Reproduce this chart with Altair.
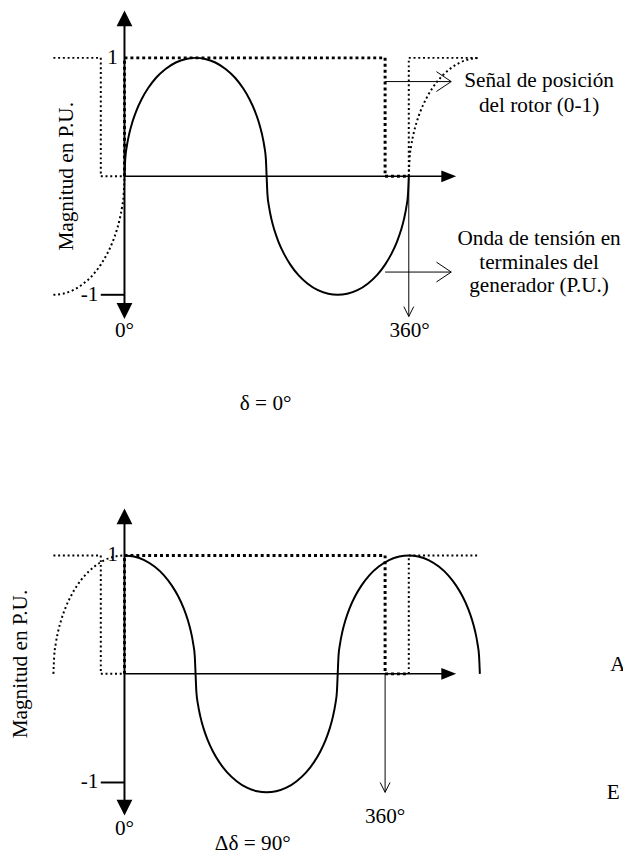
import altair as alt
import pandas as pd

# ---------------- data (degrees, per-unit values) ----------------
# Voltage wave, delta = 0 deg
wave0_deg = [0, 1, 3, 6, 10, 15, 22, 30, 40, 52, 65, 78, 90,
             102, 115, 128, 140, 150, 158, 165, 170, 174, 177, 179, 180,
             181, 183, 186, 190, 195, 202, 210, 220, 232, 245, 258, 270,
             282, 295, 308, 320, 330, 338, 345, 350, 354, 357, 359, 360]
wave0_val = [0, .149, .256, .359, .458, .553, .655, .745, .832, .906, .961, .991, 1,
             .991, .961, .906, .832, .745, .655, .553, .458, .359, .256, .149, 0,
             -.149, -.256, -.359, -.458, -.553, -.655, -.745, -.832, -.906, -.961, -.991, -1,
             -.991, -.961, -.906, -.832, -.745, -.655, -.553, -.458, -.359, -.256, -.149, 0]
# dotted continuation of the wave (previous / next cycle), delta = 0 deg
tail0_left_deg = [-90, -78, -65, -52, -40, -30, -22, -15, -10, -6, -3, -1, 0]
tail0_left_val = [-1, -.991, -.961, -.906, -.832, -.745, -.655, -.553, -.458, -.359, -.256, -.149, 0]
tail0_right_deg = [360, 361, 363, 366, 370, 375, 382, 390, 400, 412, 425, 438, 450]
tail0_right_val = [0, .149, .256, .359, .458, .553, .655, .745, .832, .906, .961, .991, 1]

# Voltage wave, delta = 90 deg
wave90_deg = [0, 12, 25, 38, 50, 60, 68, 75, 80, 84, 87, 89, 90,
              91, 93, 96, 100, 105, 112, 120, 130, 142, 155, 168, 180,
              192, 205, 218, 230, 240, 248, 255, 260, 264, 267, 269, 270,
              271, 273, 276, 280, 285, 292, 300, 310, 322, 335, 348, 360,
              372, 385, 398, 410, 420, 428, 435, 440, 444, 447, 449, 450]
wave90_val = [1, .991, .961, .906, .832, .745, .655, .553, .458, .359, .256, .149, 0,
              -.149, -.256, -.359, -.458, -.553, -.655, -.745, -.832, -.906, -.961, -.991, -1,
              -.991, -.961, -.906, -.832, -.745, -.655, -.553, -.458, -.359, -.256, -.149, 0,
              .149, .256, .359, .458, .553, .655, .745, .832, .906, .961, .991, 1,
              .991, .961, .906, .832, .745, .655, .553, .458, .359, .256, .149, 0]
tail90_left_deg = [-90, -89, -87, -84, -80, -75, -68, -60, -50, -38, -25, -12, 0]
tail90_left_val = [0, .149, .256, .359, .458, .553, .655, .745, .832, .906, .961, .991, 1]

# Rotor position signal (0-1)
sig_prev_deg = [-90, -30, -30, 0]
sig_prev_val = [1, 1, 0, 0]
sig_main_deg = [0, 0, 330, 330, 360]
sig_main_val = [0, 1, 1, 0, 0]
sig_next_deg = [360, 360, 450]
sig_next_val = [0, 1, 1]

# ---------------- scales ----------------
W, H = 623, 849
XS = alt.Scale(domain=[-147.5, 631.25], nice=False, zero=False)
YS_TOP = alt.Scale(domain=[1.375 - H / 120, 1.375], nice=False, zero=False)
YS_BOT = alt.Scale(domain=[5.575 - H / 120, 5.575], nice=False, zero=False)

FONT = "Liberation Serif, Times New Roman, serif"
FS = 21.5


def xy(ys):
    return dict(x=alt.X("x:Q", scale=XS, axis=None), y=alt.Y("y:Q", scale=ys, axis=None))


def curve(xs, vs, ys, interp="monotone", **kw):
    df = pd.DataFrame({"x": xs, "y": vs, "i": range(len(xs))})
    return alt.Chart(df).mark_line(color="black", interpolate=interp, **kw).encode(
        order="i:Q", **xy(ys))


def hrule(x1, x2, y, ys, w):
    df = pd.DataFrame({"x": [x1], "x2": [x2], "y": [y]})
    return alt.Chart(df).mark_rule(color="black", strokeWidth=w).encode(
        x=alt.X("x:Q", scale=XS, axis=None), x2="x2:Q", y=alt.Y("y:Q", scale=ys, axis=None))


def vrule(x, y1, y2, ys, w):
    df = pd.DataFrame({"x": [x], "y": [y1], "y2": [y2]})
    return alt.Chart(df).mark_rule(color="black", strokeWidth=w).encode(
        x=alt.X("x:Q", scale=XS, axis=None), y=alt.Y("y:Q", scale=ys, axis=None), y2="y2:Q")


def head(x, y, ys, shape, size, filled):
    df = pd.DataFrame({"x": [x], "y": [y]})
    if filled:
        m = alt.Chart(df).mark_point(shape=shape, size=size, filled=True, color="black",
                                     strokeWidth=0, opacity=1)
    else:
        m = alt.Chart(df).mark_point(shape=shape, size=size, filled=False, color="black",
                                     strokeWidth=1, opacity=1)
    return m.encode(**xy(ys))


def text(t, x, y, ys, align="center", angle=0):
    df = pd.DataFrame({"x": [x], "y": [y], "t": [t]})
    kw = dict(align=align, baseline="middle", font=FONT, fontSize=FS, color="black")
    if angle:
        kw["angle"] = angle
    return alt.Chart(df).mark_text(**kw).encode(text="t:N", **xy(ys))


UP = "M0,-1L1,1L-1,1Z"
DOWN = "M0,1L1,-1L-1,-1Z"
RIGHT = "M1,0L-1,-0.8L-1,0.8Z"
V_DOWN = "M-0.5,-1L0,0L0.5,-1"
V_RIGHT = "M-1,-0.67L0,0L-1,0.67"

thin_dot = dict(strokeWidth=2, strokeDash=[2, 2.8])
thick_dot = dict(strokeWidth=3, strokeDash=[3, 3])

layers = []
# ---------------- top panel (delta = 0) ----------------
T = YS_TOP
layers += [
    curve(sig_prev_deg, sig_prev_val, T, "linear", **thin_dot),
    curve(sig_next_deg, sig_next_val, T, "linear", **thin_dot),
    curve(tail0_left_deg, tail0_left_val, T, **thin_dot),
    curve(tail0_right_deg, tail0_right_val, T, **thin_dot),
    hrule(0, 410, 0, T, 1.5),
    vrule(0, -1.137, 1.333, T, 2),
    hrule(-30, 0, -1, T, 2),
    curve(sig_main_deg, sig_main_val, T, "linear", **thick_dot),
    curve(wave0_deg, wave0_val, T, strokeWidth=2),
    head(0, 1.333, T, UP, 256, True),
    head(0, -1.137, T, DOWN, 256, True),
    head(410.6, 0, T, RIGHT, 225, True),
    vrule(360, 0, -1.183, T, 1),
    head(360, -1.183, T, V_DOWN, 400, False),
    hrule(330, 413.75, 0.8, T, 1),
    head(413.75, 0.8, T, V_RIGHT, 900, False),
    hrule(330, 413.75, -0.808, T, 1),
    head(413.75, -0.808, T, V_RIGHT, 900, False),
    text("1", -15, 1, T),
    text("-1", -33, -1, T, align="right"),
    text("0°", 0, -1.308, T),
    text("360°", 361, -1.308, T),
    text("Señal de posición", 525, 0.8, T),
    text("del rotor (0-1)", 525, 0.592, T),
    text("Onda de tensión en", 525, -0.533, T),
    text("terminales del", 525, -0.733, T),
    text("generador (P.U.)", 525, -0.925, T),
    text("δ = 0°", 178.75, -1.925, T),
    text("Magnitud en P.U.", -72.9, 0, T, angle=270),
]

# ---------------- bottom panel (delta = 90) ----------------
B = YS_BOT
layers += [
    curve(sig_prev_deg, sig_prev_val, B, "linear", **thin_dot),
    curve(sig_next_deg, sig_next_val, B, "linear", **thin_dot),
    curve(tail90_left_deg, tail90_left_val, B, **thin_dot),
    hrule(0, 410, 0, B, 1.5),
    vrule(0, -1.129, 1.329, B, 2),
    hrule(-30, 0, -0.917, B, 2),
    curve(sig_main_deg, sig_main_val, B, "linear", **thick_dot),
    curve(wave90_deg, wave90_val, B, strokeWidth=2),
    head(0, 1.329, B, UP, 256, True),
    head(0, -1.129, B, DOWN, 256, True),
    head(410.6, 0, B, RIGHT, 225, True),
    vrule(330, 0, -1.0, B, 1),
    head(330, -1.0, B, V_DOWN, 400, False),
    text("1", -15, 1, B),
    text("-1", -33, -0.917, B, align="right"),
    text("0°", 0, -1.3125, B),
    text("360°", 330, -1.2125, B),
    text("Δδ = 90°", 162.5, -1.4375, B),
    text("A", 615, 0.075, B, align="left"),
    text("E", 610.6, -1.008, B, align="left"),
    text("Magnitud en P.U.", -130.8, 0.083, B, angle=270),
]

chart = alt.layer(*layers).resolve_scale(y="independent").properties(
    width=W, height=H,
    autosize=alt.AutoSizeParams(type="none"),
    padding=0,
    background="white",
).configure_view(stroke=None)

chart.save("out.html", embed_options={"renderer": "svg", "actions": False})
